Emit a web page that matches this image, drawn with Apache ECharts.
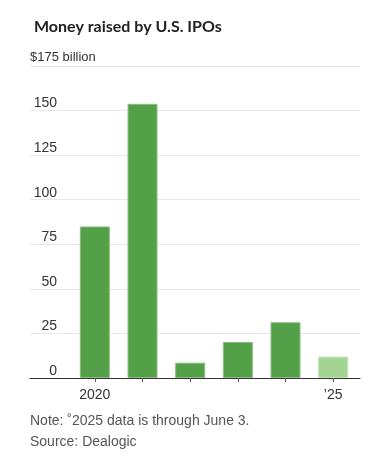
<!DOCTYPE html>
<html><head><meta charset="utf-8">
<script src="https://cdn.jsdelivr.net/npm/echarts@6/dist/echarts.min.js"></script>
<style>html,body{margin:0;padding:0;background:#fff}#c{width:373px;height:456px}</style>
</head><body><div id="c"></div>
<script>
const categories = ['2020','2021','2022','2023','2024','2025'];
const tickLabels = ['2020','','','','','\u201925'];
const values = [85.0, 153.8, 8.6, 20.2, 31.3, 12.0];
const partial = [false, false, false, false, false, true];
const yTicks = [0, 25, 50, 75, 100, 125, 150, 175];

const font = '"Liberation Sans Narrow", "Liberation Sans", sans-serif';
const chart = echarts.init(document.getElementById('c'));
chart.setOption({
  animation: false,
  title: {
    text: 'Money raised by U.S. IPOs',
    left: 29, top: 14,
    textStyle: {fontFamily: 'Lato, sans-serif', fontWeight: 'bold', fontSize: 16, color: '#222'}
  },
  graphic: [
    {type: 'text', left: 30, top: 414, style: {text: 'Note: \u02DA2025 data is through June 3.', font: '14px ' + font, fill: '#555'}},
    {type: 'text', left: 30, top: 435, style: {text: 'Source: Dealogic', font: '14px ' + font, fill: '#555'}}
  ],
  grid: [
    {left: 30, right: 13, top: 66, height: 312},
    {left: 71, right: 16, top: 66, height: 312}
  ],
  xAxis: [
    {type: 'category', gridIndex: 0, data: categories, axisLine: {lineStyle: {color: '#333', width: 1}}, axisTick: {show: false}, axisLabel: {show: false}},
    {type: 'category', gridIndex: 1, data: categories, boundaryGap: true,
     axisLine: {show: false},
     axisTick: {show: true, alignWithLabel: true, length: 4, lineStyle: {color: '#555'}},
     axisLabel: {interval: 0, margin: 10, fontFamily: font, fontSize: 14, color: '#333', formatter: (v, i) => tickLabels[i]}}
  ],
  yAxis: [
    {type: 'value', gridIndex: 0, min: 0, max: 175, interval: 25,
     name: '$175 billion', nameLocation: 'end', nameGap: 2,
     nameTextStyle: {align: 'left', verticalAlign: 'bottom', fontFamily: font, fontSize: 13, color: '#333', padding: [0,0,0,0]},
     axisLine: {show: false}, axisTick: {show: false},
     splitLine: {lineStyle: {color: '#e8e8e8', width: 1}},
     axisLabel: {inside: true, align: 'right', margin: 27, verticalAlign: 'bottom', fontFamily: font, fontSize: 14, color: '#333',
       formatter: v => (v === 175 ? '' : String(v))}},
    {type: 'value', gridIndex: 1, min: 0, max: 175, interval: 25, show: false, splitLine: {show: false}}
  ],
  series: [{
    type: 'bar', xAxisIndex: 1, yAxisIndex: 1, barWidth: 30,
    data: values.map((v, i) => ({value: v, itemStyle: partial[i]
      ? {color: '#a3d491', borderColor: '#c4e3b8', borderWidth: 1}
      : {color: '#53a048', borderColor: '#8cc080', borderWidth: 1}}))
  }]
});
</script></body></html>
